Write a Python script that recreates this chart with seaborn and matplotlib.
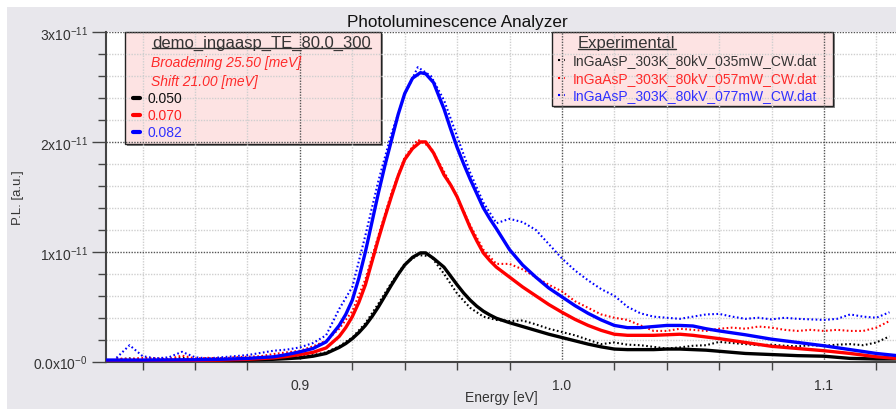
import numpy as np
import pandas as pd
import matplotlib
matplotlib.use("Agg")
import matplotlib.pyplot as plt
import seaborn as sns
from matplotlib.patches import Rectangle
from matplotlib.lines import Line2D
from matplotlib.ticker import MultipleLocator, FixedLocator

# ---------------- data (P.L. values in units of 1e-12 a.u.) ----------------
fit_energy = [0.826, 0.84, 0.86, 0.87, 0.88, 0.89, 0.895, 0.9, 0.905, 0.91,
              0.915, 0.9175, 0.92, 0.9225, 0.925, 0.9275, 0.93, 0.9325, 0.935, 0.9375,
              0.94, 0.943, 0.946, 0.948, 0.951, 0.955, 0.9575, 0.96, 0.9625, 0.965,
              0.9675, 0.97, 0.9725, 0.975, 0.98, 0.985, 0.99, 0.995, 1.0,
              1.005, 1.01, 1.015, 1.02, 1.025, 1.03, 1.035, 1.04, 1.045, 1.05,
              1.055, 1.06, 1.07, 1.08, 1.09, 1.1, 1.11, 1.12, 1.128]
fit_050 = [0.05, 0.06, 0.08, 0.10, 0.15, 0.22, 0.28, 0.35, 0.50, 0.75,
           1.3, 1.65, 2.1, 2.65, 3.3, 4.1, 5.0, 6.0, 7.0, 7.95,
           8.8, 9.5, 9.9, 9.9, 9.4, 8.6, 7.8, 7.0, 6.25, 5.6,
           5.05, 4.6, 4.25, 3.95, 3.55, 3.2, 2.85, 2.5, 2.2,
           1.9, 1.6, 1.35, 1.15, 1.1, 1.1, 1.1, 1.15, 1.15, 1.1,
           1.05, 0.95, 0.75, 0.65, 0.55, 0.5, 0.3, 0.25, 0.25]
fit_070 = [0.10, 0.10, 0.12, 0.15, 0.22, 0.35, 0.48, 0.65, 0.85, 1.25,
           2.3, 3.1, 4.1, 5.4, 7.0, 9.1, 11.2, 13.2, 15.1, 16.9,
           18.4, 19.4, 20.0, 20.0, 19.0, 17.0, 16.1, 15.0, 13.6, 12.2,
           11.0, 9.9, 9.2, 8.6, 7.7, 6.8, 6.0, 5.2, 4.5,
           3.85, 3.3, 2.85, 2.5, 2.4, 2.4, 2.4, 2.45, 2.5, 2.4,
           2.25, 2.1, 1.75, 1.4, 1.2, 1.0, 0.75, 0.45, 0.3]
fit_082 = [0.15, 0.15, 0.18, 0.22, 0.30, 0.45, 0.65, 0.90, 1.2, 1.8,
           3.3, 4.3, 5.6, 7.6, 10.0, 12.7, 15.4, 17.9, 20.2, 22.5,
           24.4, 25.8, 26.3, 26.2, 25.4, 23.0, 21.2, 19.5, 18.0, 16.6,
           15.3, 14.0, 13.0, 12.1, 10.2, 8.8, 7.7, 6.7, 5.9,
           5.1, 4.4, 3.8, 3.3, 3.1, 3.1, 3.2, 3.3, 3.3, 3.25,
           3.0, 2.8, 2.45, 2.05, 1.75, 1.45, 1.1, 0.75, 0.55]

exp_energy = [0.830, 0.835, 0.840, 0.845, 0.850, 0.855, 0.860, 0.865, 0.870, 0.875,
              0.880, 0.885, 0.890, 0.895, 0.900, 0.905, 0.910, 0.915, 0.920, 0.925,
              0.930, 0.935, 0.940, 0.945, 0.950, 0.955, 0.960, 0.965, 0.970, 0.975,
              0.980, 0.985, 0.990, 0.995, 1.000, 1.005, 1.010, 1.015, 1.020, 1.025,
              1.030, 1.035, 1.040, 1.045, 1.050, 1.055, 1.060, 1.065, 1.070, 1.075,
              1.080, 1.085, 1.090, 1.095, 1.100, 1.105, 1.110, 1.115, 1.120, 1.125]
exp_035 = [0.20, 0.30, 0.15, 0.25, 0.20, 0.35, 0.20, 0.25, 0.30, 0.20,
           0.30, 0.25, 0.35, 0.40, 0.45, 0.60, 0.85, 1.4, 2.2, 3.5,
           5.3, 7.2, 8.9, 9.7, 9.6, 8.0, 6.2, 4.9, 4.1, 3.8,
           3.7, 3.75, 3.4, 3.0, 2.7, 2.4, 2.0, 1.6, 1.75, 1.55,
           1.5, 1.35, 1.2, 1.3, 1.45, 1.5, 1.8, 1.7, 1.6, 1.5,
           1.55, 1.45, 1.4, 1.5, 1.45, 1.55, 1.6, 1.5, 1.75, 2.3]
exp_057 = [0.30, 0.25, 0.35, 0.30, 0.25, 0.55, 0.30, 0.35, 0.30, 0.40,
           0.45, 0.50, 0.70, 0.85, 1.0, 1.4, 1.9, 3.0, 4.6, 7.5,
           11.5, 15.4, 18.6, 20.2, 19.5, 17.3, 15.0, 12.4, 10.2, 8.9,
           8.9, 8.4, 7.7, 7.0, 6.4, 5.5, 4.9, 4.3, 4.0, 3.8,
           3.3, 2.8, 2.8, 3.0, 2.9, 2.8, 3.0, 3.1, 3.0, 3.2,
           3.1, 2.9, 2.8, 2.9, 2.8, 2.9, 2.8, 2.8, 3.1, 3.7]
exp_077 = [0.35, 1.5, 0.50, 0.30, 0.40, 0.90, 0.40, 0.30, 0.40, 0.50,
           0.60, 0.80, 1.0, 1.1, 1.3, 1.7, 2.4, 4.8, 6.8, 11.5,
           16.5, 20.8, 24.3, 26.8, 26.0, 23.8, 20.5, 17.2, 14.5, 12.6,
           13.0, 12.7, 12.0, 10.7, 9.4, 8.3, 7.4, 6.6, 6.0, 5.0,
           4.4, 4.1, 4.0, 3.9, 4.1, 4.3, 4.35, 4.1, 3.9, 4.0,
           3.85, 4.0, 3.9, 3.85, 3.8, 3.9, 4.3, 4.1, 4.0, 4.5]

fit_labels = ["0.050", "0.070", "0.082"]
exp_labels = ["InGaAsP_303K_80kV_035mW_CW.dat",
              "InGaAsP_303K_80kV_057mW_CW.dat",
              "InGaAsP_303K_80kV_077mW_CW.dat"]
y_ticks = [0, 1e-11, 2e-11, 3e-11]
y_ticklabels = ["0.0x10$^{-0}$", "1x10$^{-11}$", "2x10$^{-11}$", "3x10$^{-11}$"]
x_ticks = [0.9, 1.0, 1.1]
x_ticklabels = ["0.9", "1.0", "1.1"]

colors = ["#000000", "#ff0000", "#0000ff"]
text_colors = ["#111111", "#ff2020", "#3030ff"]

# ---------------- frames ----------------
fit_df = pd.DataFrame({
    "E": fit_energy * 3,
    "PL": np.array(fit_050 + fit_070 + fit_082) * 1e-12,
    "series": [l for l in fit_labels for _ in fit_energy],
})
exp_df = pd.DataFrame({
    "E": exp_energy * 3,
    "PL": np.array(exp_035 + exp_057 + exp_077) * 1e-12,
    "series": [l for l in exp_labels for _ in exp_energy],
})

# ---------------- figure ----------------
sns.set_theme(style="white")
plt.rcParams["font.family"] = ["Liberation Sans", "DejaVu Sans"]
plt.rcParams["mathtext.fontset"] = "custom"
plt.rcParams["mathtext.rm"] = "Liberation Sans"
plt.rcParams["mathtext.it"] = "Liberation Sans:italic"
plt.rcParams["mathtext.bf"] = "Liberation Sans:bold"

W, H = 896, 410
fig = plt.figure(figsize=(W / 100, H / 100), dpi=100, facecolor="white")
fig.patches.append(Rectangle((7 / W, 0), 1 - 7 / W, 1 - 8 / H, transform=fig.transFigure,
                             facecolor="#e8e7ec", edgecolor="none", zorder=-10))

ax_l, ax_t, ax_b = 106, 33, 362.7
ax = fig.add_axes([ax_l / W, 1 - ax_b / H, 1 - ax_l / W, (ax_b - ax_t) / H])
ax.set_facecolor("white")

sns.lineplot(data=exp_df, x="E", y="PL", hue="series", hue_order=exp_labels,
             palette=colors, estimator=None, sort=False, legend=False, ax=ax,
             linewidth=1.5, linestyle=(0, (0.8, 1.2)), zorder=2)
sns.lineplot(data=fit_df, x="E", y="PL", hue="series", hue_order=fit_labels,
             palette=colors, estimator=None, sort=False, legend=False, ax=ax,
             linewidth=2.4, zorder=3, solid_joinstyle="round")

ax.set_xlim(0.826, 1.1275)
ax.set_ylim(0, 3e-11)
ax.xaxis.set_major_locator(FixedLocator(x_ticks))
ax.set_xticklabels(x_ticklabels)
ax.xaxis.set_minor_locator(MultipleLocator(0.02))
ax.yaxis.set_major_locator(FixedLocator(y_ticks))
ax.set_yticklabels(y_ticklabels)
ax.yaxis.set_minor_locator(MultipleLocator(2e-12))

ax.tick_params(axis="both", which="both", direction="out", bottom=True, left=True,
               top=False, right=False, color="#444444", width=1, labelcolor="#333333",
               labelsize=10)
ax.tick_params(axis="x", which="major", length=0, pad=12)
ax.tick_params(axis="x", which="minor", length=6)
ax.tick_params(axis="y", which="major", length=10, pad=3)
ax.tick_params(axis="y", which="minor", length=6)

ax.grid(which="major", color="#555555", linestyle=(0, (1, 1)), linewidth=1)
ax.grid(which="minor", color="#cfcfcf", linestyle=(0, (1, 1)), linewidth=1)
ax.set_axisbelow(True)
for s in ["top", "right"]:
    ax.spines[s].set_visible(False)
for s in ["left", "bottom"]:
    ax.spines[s].set_color("#444444")
    ax.spines[s].set_linewidth(1.5)

ax.set_xlabel("Energy [eV]", fontsize=10, color="#333333")
ax.set_ylabel("P.L. [a.u.]", fontsize=9.5, color="#333333")
ax.xaxis.set_label_coords(0.5, (ax_b - 391.5) / (ax_b - ax_t))
ax.yaxis.set_label_coords((24 - ax_l) / (W - ax_l), 0.5)

fig.text(457 / W, 1 - 22 / H, "Photoluminescence Analyzer", ha="center", va="center",
         fontsize=12.3, color="#111111")


def fx(x):
    return x / W


def fy(y):
    return 1 - y / H


def draw_box(x0, y0, x1, y1):
    ax.add_patch(Rectangle((fx(x0 + 2), fy(y1 + 2)), (x1 - x0) / W, (y1 - y0) / H,
                           transform=fig.transFigure, facecolor="#8a8a8a",
                           edgecolor="none", zorder=0.2, clip_on=False))
    ax.add_patch(Rectangle((fx(x0), fy(y1)), (x1 - x0) / W, (y1 - y0) / H,
                           transform=fig.transFigure, facecolor="#fde3e3",
                           edgecolor="#222222", linewidth=1, zorder=0.3, clip_on=False))


draw_box(125, 33, 381, 144.5)
draw_box(552, 33, 833, 107)

t1 = fig.text(fx(152), fy(43), "demo_ingaasp_TE_80.0_300", ha="left", va="center",
              fontsize=12, color="#333333")
fig.text(fx(151), fy(63), "Broadening 25.50 [meV]", ha="left", va="center",
         fontsize=10, color="#ff2a2a", style="italic")
fig.text(fx(151), fy(82), "Shift 21.00 [meV]", ha="left", va="center",
         fontsize=10, color="#ff2a2a", style="italic")
for i, (lab, c, tc) in enumerate(zip(fit_labels, colors, text_colors)):
    yy = [99, 116, 132.7][i]
    fig.add_artist(Line2D([fx(133), fx(140)], [fy(yy), fy(yy)], color=c, lw=3,
                          transform=fig.transFigure))
    fig.text(fx(147), fy(yy), lab, ha="left", va="center", fontsize=10, color=tc)

t2 = fig.text(fx(578), fy(43.5), "Experimental", ha="left", va="center",
              fontsize=12, color="#333333")
for i, (lab, c, tc) in enumerate(zip(exp_labels, colors,
                                     ["#333333", "#ff2a2a", "#3030ff"])):
    yy = [61, 78.7, 95.7][i]
    fig.add_artist(Line2D([fx(558), fx(565)], [fy(yy), fy(yy)], color=c, lw=1.5,
                          linestyle=(0, (1, 2)), transform=fig.transFigure))
    fig.text(fx(573), fy(yy), lab, ha="left", va="center", fontsize=10, color=tc)

fig.canvas.draw()
rend = fig.canvas.get_renderer()
for t in (t1, t2):
    bb = t.get_window_extent(rend)
    yline = (bb.y0 + 1.5) / H
    fig.add_artist(Line2D([bb.x0 / W, bb.x1 / W], [yline, yline], color="#333333",
                          lw=1, transform=fig.transFigure))

fig.savefig("out.png", dpi=100, facecolor="white")
